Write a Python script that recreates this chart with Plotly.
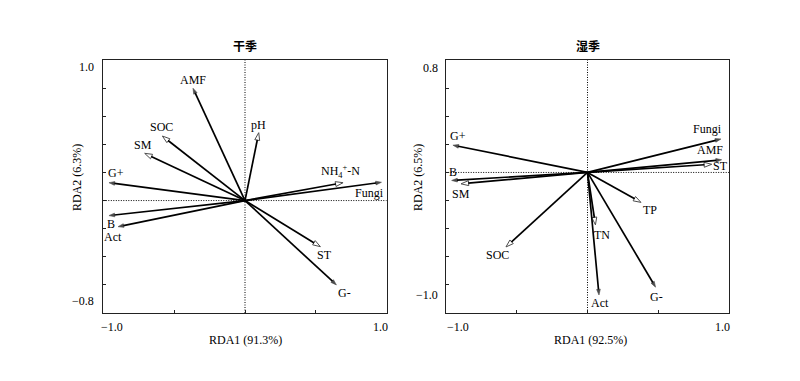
import plotly.graph_objects as go

# ---------------- data ----------------
dry_vars = ["AMF", "SOC", "SM", "G+", "B", "Act", "pH", "NH<sub>4</sub><sup>+</sup>-N", "Fungi", "ST", "G-"]
dry_x = [-0.367, -0.583, -0.708, -0.960, -0.960, -0.896, 0.097, 0.692, 0.963, 0.532, 0.645]
dry_y = [0.799, 0.459, 0.336, 0.127, -0.107, -0.186, 0.483, 0.127, 0.130, -0.328, -0.600]
dry_env = [False, True, True, False, False, False, True, True, False, True, False]

wet_vars = ["G+", "B", "SM", "SOC", "Act", "TN", "TP", "G-", "Fungi", "AMF", "ST"]
wet_x = [-0.949, -0.958, -0.892, -0.575, 0.081, 0.056, 0.377, 0.480, 0.941, 0.946, 0.876]
wet_y = [0.194, -0.057, -0.081, -0.530, -0.872, -0.373, -0.213, -0.816, 0.238, 0.090, 0.058]
wet_env = [False, False, True, True, False, True, True, False, False, False, True]

panel_titles = ["干季", "湿季"]
x_titles = ["RDA1 (91.3%)", "RDA1 (92.5%)"]
y_titles = ["RDA2 (6.3%)", "RDA2 (6.5%)"]
y_ranges = [[-0.8, 1.0], [-1.0, 0.8]]
x_range = [-1.0, 1.0]

# label offsets in screen pixels (dx right, dy down)
dry_off = [(0, -8), (-1, -9.5), (-2, -8), (7, -10), (2, 8), (-5, 10), (0, -8), (-3, -11), (-12, 11), (4, 8), (8, 8)]
wet_off = [(5, -9), (1, -8), (0, 10), (-8, 8), (1, 8), (7, 10), (9, 8), (1, 10), (-13, -10), (-12, -10), (9, 2)]

SERIF = "Liberation Serif, Times New Roman, serif"
CJK = "Noto Sans CJK SC"
W, H = 800, 381

fig = go.Figure()

panels = [
    (dry_vars, dry_x, dry_y, dry_env, dry_off, "x", "y"),
    (wet_vars, wet_x, wet_y, wet_env, wet_off, "x2", "y2"),
]

annotations = []
shapes = []
for vars_, xs, ys, env, offs, xa, ya in panels:
    yr = y_ranges[0] if xa == "x" else y_ranges[1]
    shapes.append(dict(type="line", xref=xa, yref=ya, x0=0, x1=0, y0=yr[0], y1=yr[1],
                       line=dict(color="black", width=1, dash="1px,1.5px"), layer="below"))
    shapes.append(dict(type="line", xref=xa, yref=ya, x0=x_range[0], x1=x_range[1], y0=0, y1=0,
                       line=dict(color="black", width=1, dash="1px,1.5px"), layer="below"))
    for name, tx, ty, is_env, (dx, dy) in zip(vars_, xs, ys, env, offs):
        if is_env:
            marker = dict(symbol="arrow", size=[0, 8], angleref="previous",
                          color="white", line=dict(color="black", width=1))
        else:
            marker = dict(symbol="arrow", size=[0, 6], angleref="previous",
                          color="black", line=dict(color="black", width=0.6))
        fig.add_trace(go.Scatter(
            x=[0, tx], y=[0, ty], mode="lines+markers",
            line=dict(color="black", width=1.7),
            marker=marker, xaxis=xa, yaxis=ya,
            showlegend=False, hoverinfo="skip"))
        annotations.append(dict(
            x=tx, y=ty, xref=xa, yref=ya, text=name, showarrow=False,
            xshift=dx, yshift=-dy, font=dict(family=SERIF, size=12, color="black"),
            xanchor="center", yanchor="middle"))


def px(x):
    return x / W


def py(y):
    return 1 - y / H


def txt(x, y, s, xanchor="center", size=12, family=SERIF, angle=0, bold=False):
    annotations.append(dict(
        x=px(x), y=py(y), xref="paper", yref="paper", text=s, showarrow=False,
        xanchor=xanchor, yanchor="middle", textangle=angle,
        font=dict(family=family, size=size, color="black",
                  weight="bold" if bold else "normal")))


# tick labels (placed inward at the frame ends, as in the original)
txt(96, 67, "1.0", xanchor="right")
txt(96, 301, "−0.8", xanchor="right")
txt(440, 68, "0.8", xanchor="right")
txt(440, 295, "−1.0", xanchor="right")
txt(112, 327, "−1.0")
txt(380, 327, "1.0")
txt(458, 327, "−1.0")
txt(722, 327, "1.0")

# axis titles
txt(245, 340, x_titles[0])
txt(590, 340, x_titles[1])
txt(77, 178, y_titles[0], angle=-90)
txt(418, 178, y_titles[1], angle=-90)

# panel titles
txt(245, 45, panel_titles[0], family=CJK, size=12, bold=True)
txt(588, 45, panel_titles[1], family=CJK, size=12, bold=True)

ydom = [py(313), py(60)]
axis_common = dict(showgrid=False, zeroline=False, showline=True, mirror=True,
                   linecolor="#222", linewidth=1, ticks="inside", ticklen=3,
                   tickcolor="#222", showticklabels=False, fixedrange=True)

fig.update_layout(
    width=W, height=H, margin=dict(l=0, r=0, t=0, b=0),
    paper_bgcolor="white", plot_bgcolor="white",
    xaxis=dict(domain=[px(103.3), px(386.7)], range=x_range, dtick=0.5, tick0=0,
               anchor="y", **axis_common),
    yaxis=dict(domain=ydom, range=y_ranges[0], dtick=0.2, tick0=0, anchor="x", **axis_common),
    xaxis2=dict(domain=[px(445.7), px(729.3)], range=x_range, dtick=0.5, tick0=0,
                anchor="y2", **axis_common),
    yaxis2=dict(domain=ydom, range=y_ranges[1], dtick=0.2, tick0=0, anchor="x2", **axis_common),
    annotations=annotations, shapes=shapes,
)

fig.write_html("out.html", config={"displayModeBar": False},
               post_script="document.body.style.margin='0';document.body.style.overflow='hidden';")
